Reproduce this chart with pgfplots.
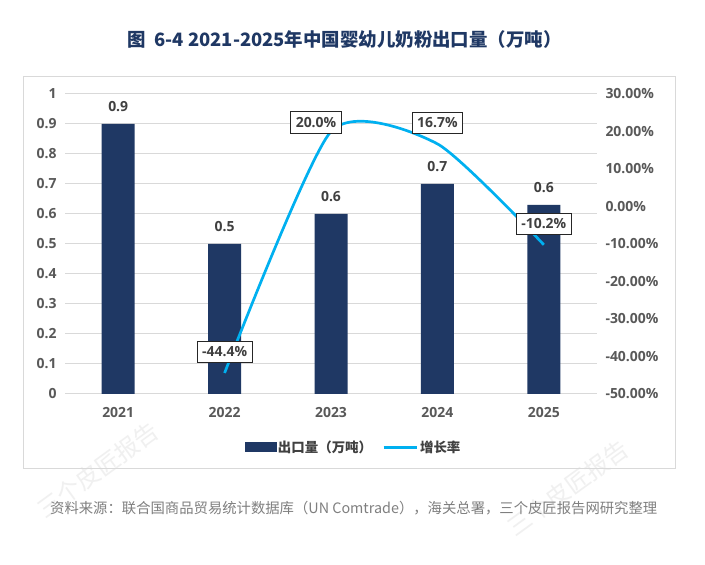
\documentclass[border=0pt]{standalone}
\usepackage{fontspec}
\setmainfont{Open Sans}
\newfontfamily\cjk{Noto Sans CJK SC}
\usepackage{pgfplots}
\pgfplotsset{compat=1.18}
\definecolor{navy}{HTML}{1F3864}
\definecolor{cyanl}{HTML}{00B0F0}
\definecolor{gridc}{HTML}{D9D9D9}
\definecolor{tickc}{HTML}{595959}
\definecolor{labc}{HTML}{404040}
\definecolor{srcc}{HTML}{7F7F7F}
\definecolor{wmc}{HTML}{F0F0F0}
\begin{document}
\begin{tikzpicture}[x=1bp,y=1bp]
\useasboundingbox (0,0) rectangle (705,565);
\fill[white] (0,0) rectangle (705,565);
\node[rotate=36, text=wmc, font=\cjk\fontsize{24}{24}\selectfont] at (98,95) {三个皮匠报告};
\node[rotate=36, text=wmc, font=\cjk\fontsize{24}{24}\selectfont] at (568,77) {三个皮匠报告};
\draw[gridc, line width=1bp] (23,96) rectangle (675,488);
\node[font=\cjk\bfseries\fontsize{18.5}{20}\selectfont, text=navy] at (344.5,525) {图\ \ 6-4 2021-2025年中国婴幼儿奶粉出口量（万吨）};
\node[anchor=west, font=\cjk\fontsize{14.4}{16}\selectfont, text=srcc, inner sep=0pt] at (50,57) {资料来源：联合国商品贸易统计数据库（UN Comtrade），海关总署，三个皮匠报告网研究整理};

\begin{axis}[
  at={(65bp,171bp)}, anchor=south west, scale only axis,
  width=532bp, height=300bp,
  xmin=-0.5, xmax=4.5, ymin=0, ymax=1,
  ybar, bar width=33bp,
  axis line style={draw=none},
  major tick length=0pt,
  ytick={0,0.1,0.2,0.3,0.4,0.5,0.6,0.7,0.8,0.9,1},
  yticklabels={0,0.1,0.2,0.3,0.4,0.5,0.6,0.7,0.8,0.9,1},
  xtick={0,1,2,3,4},
  xticklabels={2021,2022,2023,2024,2025},
  ymajorgrids, grid style={gridc, line width=1bp},
  tick label style={font=\bfseries\fontsize{14}{14}\selectfont, text=tickc},
  yticklabel style={xshift=-5bp},
  xticklabel style={yshift=-10bp},
  nodes near coords={\pgfmathprintnumber[fixed,fixed zerofill,precision=1,assume math mode=true]{\pgfplotspointmeta}},
  every node near coord/.append style={font=\bfseries\fontsize{14}{14}\selectfont, text=labc, anchor=center, yshift=17.5bp},
]
\addplot[fill=navy, draw=none] coordinates {(0,0.9) (1,0.5) (2,0.6) (3,0.7) (4,0.63)};
\end{axis}

\begin{axis}[
  at={(65bp,171bp)}, anchor=south west, scale only axis,
  width=532bp, height=300bp,
  xmin=-0.5, xmax=4.5, ymin=-50, ymax=30,
  axis y line*=right, axis x line=none,
  y axis line style={draw=none},
  major tick length=0pt,
  ytick={-50,-40,-30,-20,-10,0,10,20,30},
  yticklabels={-50.00\%,-40.00\%,-30.00\%,-20.00\%,-10.00\%,0.00\%,10.00\%,20.00\%,30.00\%},
  tick label style={font=\bfseries\fontsize{14}{14}\selectfont, text=tickc},
  yticklabel style={xshift=5bp},
  legend columns=-1,
  legend style={draw=none, fill=none, at={(0.5423,-0.1767)}, anchor=center,
    font=\cjk\bfseries\fontsize{13.5}{14}\selectfont, text=labc,
    /tikz/every even column/.append style={column sep=8bp}},
]
\addlegendimage{legend image code/.code={\fill[navy] (0bp,-4.5bp) rectangle (31bp,4.5bp);}}
\addlegendentry{出口量（万吨）}
\addplot[cyanl, line width=2.7bp, smooth, tension=0.38, mark=none,
  point meta=explicit,
  visualization depends on={\thisrow{dx}\as\dx},
  visualization depends on={\thisrow{dy}\as\dy},
  nodes near coords={\pgfmathprintnumber[fixed,fixed zerofill,precision=1,assume math mode=true]{\pgfplotspointmeta}\%},
  every node near coord/.append style={font=\bfseries\fontsize{14}{14}\selectfont, text=labc,
    anchor=center, fill=white, draw=black!85, line width=0.9bp, inner xsep=5bp, inner ysep=5.5bp,
    xshift=\dx*1bp, yshift=\dy*1bp},
  legend image code/.code={\draw[cyanl, line width=3bp] (0bp,0bp) -- (33bp,0bp);}]
table[x=x, y=y, meta=y] {
x y dx dy
1 -44.4 0 21
2 20.0 -15 9
3 16.7 0 21
4 -10.2 0 21
};
\addlegendentry{增长率}
\end{axis}
\end{tikzpicture}
\end{document}
